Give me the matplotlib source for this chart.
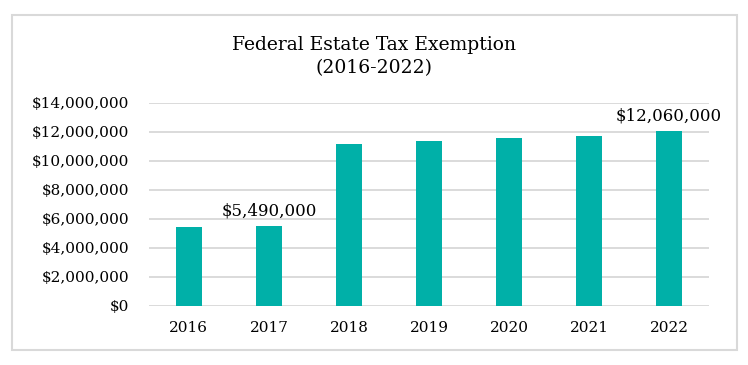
import matplotlib.pyplot as plt
from matplotlib.patches import Rectangle
from matplotlib.ticker import FuncFormatter

years = ['2016', '2017', '2018', '2019', '2020', '2021', '2022']
exemption = [5450000, 5490000, 11180000, 11400000, 11580000, 11700000, 12060000]
labeled = {'2017': '$5,490,000', '2022': '$12,060,000'}

plt.rcParams['font.family'] = ['DejaVu Serif']

fig = plt.figure(figsize=(7.48, 3.65), dpi=100)
fig.patches.append(Rectangle((12 / 748, 15 / 365), 725 / 748, 335 / 365,
                             transform=fig.transFigure, fill=False,
                             edgecolor='#d9d9d9', linewidth=1.5))

ax = fig.add_axes([0.199, 0.162, 0.749, 0.556])
x = range(len(years))
ax.bar(x, exemption, width=0.33, color='#00b0a8', zorder=3)
ax.set_xlim(-0.5, len(years) - 0.5)
ax.set_ylim(0, 14000000)
ax.set_yticks(range(0, 14000001, 2000000))
ax.yaxis.set_major_formatter(FuncFormatter(lambda v, p: '${:,.0f}'.format(v)))
ax.set_xticks(list(x))
ax.set_xticklabels(years)
ax.tick_params(length=0, labelsize=11, colors='#000000', pad=11)
ax.tick_params(axis='y', pad=14)
ax.grid(axis='y', color='#d4d4d4', linewidth=1.2, zorder=0)
for s in ax.spines.values():
    s.set_visible(False)

for i, y in enumerate(years):
    if y in labeled:
        ax.annotate(labeled[y], (i, exemption[i]), xytext=(0, 5),
                    textcoords='offset points', ha='center', va='bottom', fontsize=12)

fig.text(0.5, 0.845, 'Federal Estate Tax Exemption\n(2016-2022)', ha='center', va='center',
         fontsize=13.5, linespacing=1.35)

fig.savefig('out.png', dpi=100)
